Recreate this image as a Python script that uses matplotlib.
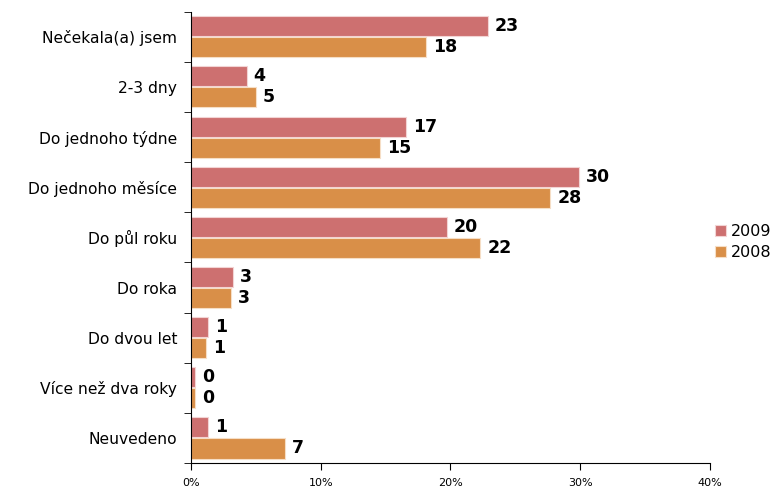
import matplotlib.pyplot as plt
import numpy as np

# Data (percent)
categories = ['Nečekala(a) jsem', '2-3 dny', 'Do jednoho týdne', 'Do jednoho měsíce',
              'Do půl roku', 'Do roka', 'Do dvou let', 'Více než dva roky', 'Neuvedeno']
values_2009 = [22.9, 4.3, 16.6, 29.9, 19.7, 3.2, 1.34, 0.34, 1.34]
values_2008 = [18.1, 5.0, 14.6, 27.7, 22.3, 3.1, 1.16, 0.34, 7.25]
series_names = ['2009', '2008']
x_ticks = [0, 10, 20, 30, 40]

col_2009 = '#CD7070'
col_2008 = '#D98F48'

fig = plt.figure(figsize=(7.78, 4.88), dpi=100)
ax = fig.add_axes([0.2455, 0.0512, 0.667, 0.9248])

y = np.arange(len(categories))
h = 0.4
b1 = ax.barh(y - 0.21, values_2009, height=h, color=col_2009,
             edgecolor='#F2D4D4', linewidth=0.8, label=series_names[0])
b2 = ax.barh(y + 0.21, values_2008, height=h, color=col_2008,
             edgecolor='#F6DEC6', linewidth=0.8, label=series_names[1])

# value labels
for bars in (b1, b2):
    for bar in bars:
        w = bar.get_width()
        ax.annotate(f'{w:.0f}', (w, bar.get_y() + bar.get_height() / 2),
                    xytext=(5, 0), textcoords='offset points',
                    ha='left', va='center', fontsize=12.5, fontweight='bold')

ax.set_xlim(0, 40)
ax.set_ylim(len(categories) - 0.5, -0.5)
ax.set_xticks(x_ticks)
ax.set_xticklabels([f'{t}%' for t in x_ticks], fontsize=8)
ax.set_yticks(y)
ax.set_yticklabels(categories, fontsize=11.2)
ax.set_yticks(np.arange(-0.5, len(categories), 1), minor=True)
ax.tick_params(axis='y', which='major', length=0, pad=10)
ax.tick_params(axis='y', which='minor', length=5, direction='out')
ax.tick_params(axis='x', length=5, direction='out', pad=6)

for s in ['top', 'right']:
    ax.spines[s].set_visible(False)

fig.legend(loc='center left', bbox_to_anchor=(715 / 778, 0.504), frameon=False,
           fontsize=11.5, handlelength=0.7, handleheight=0.7, handletextpad=0.3,
           labelspacing=0.35, borderaxespad=0, borderpad=0)

plt.savefig('out.png', dpi=100)
